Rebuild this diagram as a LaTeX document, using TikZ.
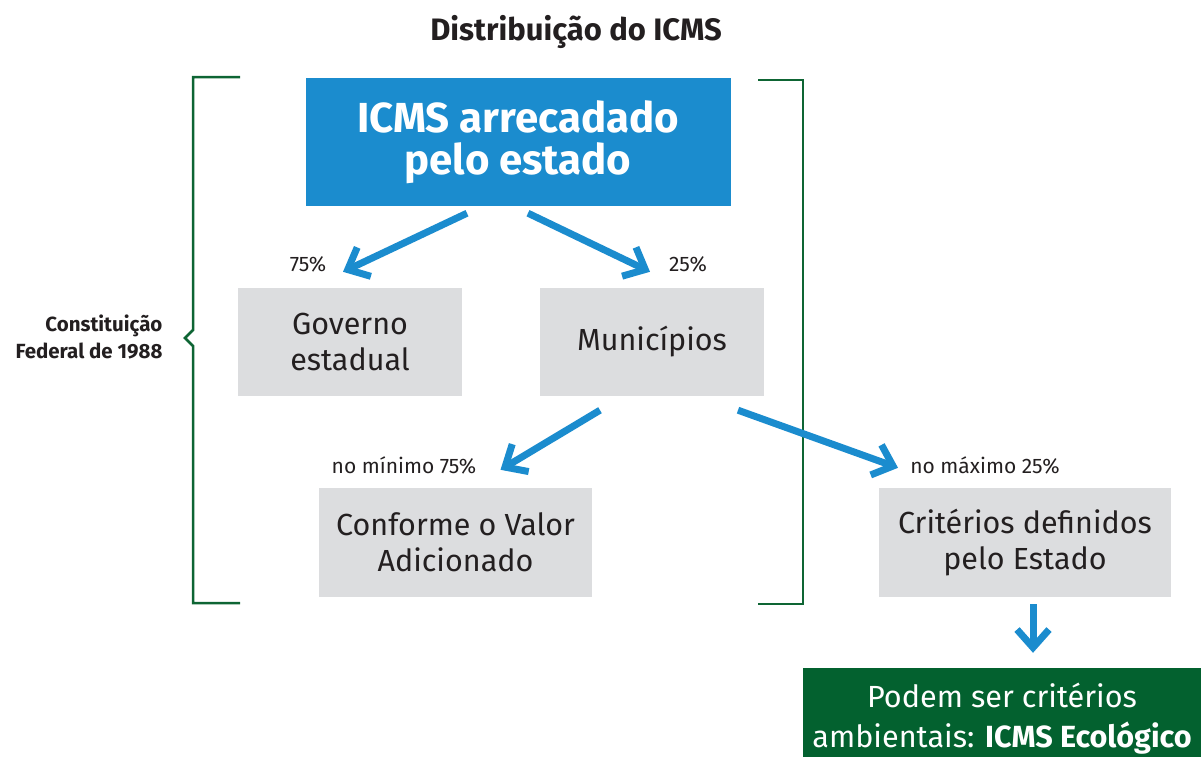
\documentclass[tikz,border=0pt]{standalone}
\usepackage{fontspec}
\setmainfont{Fira Sans}
\usetikzlibrary{arrows.meta,positioning}
\definecolor{icmsblue}{HTML}{1B8CCE}
\definecolor{boxgrey}{HTML}{DCDDDF}
\definecolor{ecogreen}{HTML}{03612F}
\definecolor{bracegreen}{HTML}{0E6534}
\definecolor{inkgrey}{HTML}{231F20}
\begin{document}
\begin{tikzpicture}[
      x=1pt,y=-1pt,
      source/.style={
         rectangle,
         fill=icmsblue,
         text=white,
         minimum width=425pt,
         minimum height=128pt,
         align=center,
         font=\bfseries\fontsize{42}{42}\selectfont
      },
      share/.style={
         rectangle,
         fill=boxgrey,
         text=inkgrey,
         align=center,
         font=\fontsize{30.5}{36}\selectfont
      },
      eco box/.style={
         rectangle,
         fill=ecogreen,
         text=white,
         minimum width=398pt,
         minimum height=102pt,
         align=center,
         font=\fontsize{30.6}{40}\selectfont
      },
      pct/.style={text=inkgrey,font=\fontsize{21}{21}\selectfont},
      flow/.style={draw=icmsblue,line width=7pt,
         -{Straight Barb[length=18pt,width=32pt]}},
      brace/.style={draw=bracegreen,line width=2.5pt},
    ]
    \useasboundingbox (0,0) rectangle (1201,756);
    % title
    \node (title) at (576,32) [text=inkgrey,font=\bfseries\fontsize{31}{31}\selectfont] {Distribuição do ICMS};
    % boxes
    \node (icms) at (518,142) [source] {ICMS arrecadado\\pelo estado};
    \node (gov) at (350,342) [share,minimum width=224pt,minimum height=108pt] {Governo\\estadual};
    \node (mun) at (652,342) [share,minimum width=224pt,minimum height=108pt] {Municípios};
    \node (valor) at (455.5,542.5) [share,minimum width=273pt,minimum height=109pt] {Conforme o Valor\\Adicionado};
    \node (crit) at (1025,542.5) [share,minimum width=292pt,minimum height=109pt] {Critérios definidos\\pelo Estado};
    \node (eco) at (1002,719) [eco box] {Podem ser critérios\\ambientais: \textbf{ICMS Ecológico}};
    % percentages
    \node (p75) at (308,264) [pct] {75\%};
    \node (p25) at (688,264) [pct] {25\%};
    \node (pmin) at (404,465) [pct] {no mínimo 75\%};
    \node (pmax) at (985,465) [pct] {no máximo 25\%};
    % brackets
    \node (const) at (166,337) [anchor=east,align=right,text=inkgrey,
       font=\bfseries\fontsize{20.5}{27}\selectfont] {Constituição\\Federal de 1988};
    \draw[brace] (240,77) -- (193,77) -- (193,330) -- (185,338)
       -- (193,346) -- (193,603) -- (240,603);
    \draw[brace] (758,80) -- (803,80) -- (803,604) -- (758,604);
    % arrows
    \draw[flow] ([xshift=-51pt,yshift=-7pt]icms.south) -- ([xshift=-7pt,yshift=16pt]gov.north);
    \draw[flow] ([xshift=10pt,yshift=-7pt]icms.south) -- ([xshift=-2pt,yshift=16pt]mun.north);
    \draw[flow] ([xshift=-52pt,yshift=-14pt]mun.south) -- ([xshift=45pt,yshift=18pt]valor.north);
    \draw[flow] ([xshift=86pt,yshift=-14pt]mun.south) -- ([xshift=-127pt,yshift=20pt]crit.north);
    \draw[flow] ([xshift=8pt,yshift=-7pt]crit.south) -- ([xshift=31pt,yshift=15pt]eco.north);
\end{tikzpicture}
\end{document}
